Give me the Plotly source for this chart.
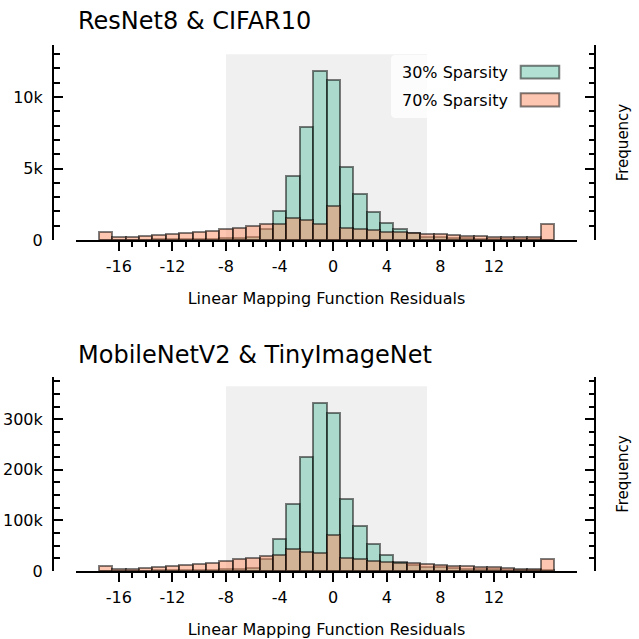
import plotly.graph_objects as go

# ---------------- data ----------------
BINS = list(range(-17, 17))  # bin centres (width 1)

RESNET_30 = [20, 20, 30, 30, 40, 50, 60, 80, 100, 120, 160, 230, 800, 2030, 4500, 7900,
             11810, 11200, 5090, 3240, 1950, 1180, 770, 480, 220, 180, 150, 120, 100, 80,
             70, 60, 50, 30]
RESNET_70 = [530, 190, 230, 280, 350, 420, 490, 550, 610, 740, 850, 950, 1100, 1100, 1550,
             1390, 1110, 2350, 850, 790, 680, 590, 540, 460, 420, 420, 350, 290, 280, 230,
             210, 190, 190, 1150]

MOBILE_30 = [500, 600, 700, 800, 1000, 1200, 1500, 2000, 2500, 3000, 4000, 5000, 23000,
             63000, 133000, 226000, 332000, 313000, 143000, 88000, 53000, 31500, 17800,
             12000, 8500, 7000, 5500, 4500, 3500, 3000, 2500, 2000, 1500, 1000]
MOBILE_70 = [9000, 4000, 4800, 6000, 8000, 9500, 11500, 14000, 16800, 20000, 22800, 25000,
             29800, 32000, 43600, 38500, 35000, 70300, 26500, 24000, 20500, 18500, 16000,
             15000, 13800, 12000, 10500, 10000, 8600, 7300, 6000, 4600, 4000, 23800]

SHADE_X = (-8, 7)
TITLES = ["ResNet8 & CIFAR10", "MobileNetV2 & TinyImageNet"]
SERIES_NAMES = ["30% Sparsity", "70% Sparsity"]
X_MAJOR = list(range(-16, 16, 4))
X_MINOR = list(range(-16, 16))
Y_TICKS_TOP = [0, 5000, 10000]
Y_TICKTEXT_TOP = ["0", "5k", "10k"]
Y_MINOR_TOP = list(range(0, 14000, 1000))
Y_TICKS_BOT = [0, 100000, 200000, 300000]
Y_TICKTEXT_BOT = ["0", "100k", "200k", "300k"]
Y_MINOR_BOT = list(range(0, 400000, 25000))

# ---------------- style ----------------
FONT = "DejaVu Sans"
GREEN = "rgba(102,194,165,0.5)"
PINK = "rgba(252,141,98,0.5)"
EDGE = "rgba(0,0,0,0.5)"
SHADE = "#f0f0f0"
W = H = 639


def px_x(p):
    return p / W


def px_y(p):
    return 1 - p / H


X_DOM = [px_x(76), px_x(577)]
Y_DOM_TOP = [px_y(240), px_y(45)]
Y_DOM_BOT = [px_y(571), px_y(377)]
LEFT_POS = px_x(53)
RIGHT_POS = px_x(595)

fig = go.Figure()

panels = [
    ("x", "y", RESNET_30, RESNET_70),
    ("x2", "y2", MOBILE_30, MOBILE_70),
]
for xa, ya, s30, s70 in panels:
    for vals, col, name in ((s30, GREEN, SERIES_NAMES[0]), (s70, PINK, SERIES_NAMES[1])):
        fig.add_trace(go.Bar(
            x=BINS, y=vals, width=1, name=name, xaxis=xa, yaxis=ya,
            marker=dict(color=col, line=dict(color=EDGE, width=2)),
            showlegend=False, hoverinfo="x+y",
        ))

ymax_top = max(RESNET_30) * 1.1
ymax_bot = max(MOBILE_30) * 1.1
range_top = [0, ymax_top * 1.05]
range_bot = [0, ymax_bot * 1.05]
xrange_ = [BINS[0] - 0.5 - 0.05 * len(BINS), BINS[-1] + 0.5 + 0.05 * len(BINS)]

# shaded regions
for xa, ya, ym in (("x", "y", ymax_top), ("x2", "y2", ymax_bot)):
    fig.add_shape(type="rect", xref=xa, yref=ya, x0=SHADE_X[0], x1=SHADE_X[1], y0=0, y1=ym,
                  fillcolor=SHADE, line=dict(width=0), layer="below")

tickfont = dict(family=FONT, size=16, color="black")


def xaxis_cfg(anchor):
    return dict(
        domain=X_DOM, anchor=anchor, range=xrange_, automargin=False,
        showline=True, linecolor="black", linewidth=2,
        showgrid=False, zeroline=False,
        tickmode="array", tickvals=X_MAJOR, ticktext=[str(v) for v in X_MAJOR],
        ticks="outside", ticklen=9, tickwidth=2, tickcolor="black",
        minor=dict(tickvals=X_MINOR, ticks="outside", ticklen=5, tickwidth=1.5, tickcolor="black"),
        tickfont=tickfont, ticklabelstandoff=2,
        title=dict(text="Linear Mapping Function Residuals", font=dict(family=FONT, size=16, color="black"), standoff=18),
    )


def yaxis_cfg(domain, rng, tv, tt, minor, side="left", pos=LEFT_POS, overlay=None, labels=True, title=None):
    d = dict(
        domain=domain, anchor="free", position=pos, side=side, range=rng, automargin=False,
        showline=True, linecolor="black", linewidth=2,
        showgrid=False, zeroline=False,
        tickmode="array", tickvals=tv, ticktext=tt,
        ticks="inside", ticklen=9, tickwidth=2, tickcolor="black",
        minor=dict(tickvals=minor, ticks="inside", ticklen=5.5, tickwidth=1.5, tickcolor="black"),
        tickfont=tickfont, showticklabels=labels, ticklabelstandoff=6,
    )
    if overlay:
        d["overlaying"] = overlay
    if title:
        d["title"] = dict(text=title, font=dict(family=FONT, size=15, color="black"), standoff=21)
    return d


fig.update_layout(
    template="none",
    width=W, height=H, margin=dict(l=0, r=0, t=0, b=0, pad=0), autosize=False,
    paper_bgcolor="white", plot_bgcolor="white",
    barmode="overlay", bargap=0,
    font=dict(family=FONT, color="black"),
    xaxis=xaxis_cfg("y"),
    xaxis2=xaxis_cfg("y2"),
    yaxis=yaxis_cfg(Y_DOM_TOP, range_top, Y_TICKS_TOP, Y_TICKTEXT_TOP, Y_MINOR_TOP),
    yaxis2=yaxis_cfg(Y_DOM_BOT, range_bot, Y_TICKS_BOT, Y_TICKTEXT_BOT, Y_MINOR_BOT),
    yaxis3=yaxis_cfg(Y_DOM_TOP, range_top, Y_TICKS_TOP, Y_TICKTEXT_TOP, Y_MINOR_TOP,
                     side="right", pos=RIGHT_POS, overlay="y", labels=False, title="Frequency"),
    yaxis4=yaxis_cfg(Y_DOM_BOT, range_bot, Y_TICKS_BOT, Y_TICKTEXT_BOT, Y_MINOR_BOT,
                     side="right", pos=RIGHT_POS, overlay="y2", labels=False, title="Frequency"),
)

# invisible traces so the right-hand overlay axes render
fig.add_trace(go.Scatter(x=[None], y=[None], xaxis="x", yaxis="y3", showlegend=False, hoverinfo="skip"))
fig.add_trace(go.Scatter(x=[None], y=[None], xaxis="x2", yaxis="y4", showlegend=False, hoverinfo="skip"))

# titles
for (ya, shift), text in zip((("y", 24), ("y2", 22)), TITLES):
    fig.add_annotation(text=text, xref="x domain" if ya == "y" else "x2 domain",
                       yref=f"{ya} domain", x=0, y=1, xanchor="left", yanchor="middle",
                       yshift=shift, showarrow=False, font=dict(family=FONT, size=24, color="black"))

# legend box with rounded corners (text first, patch after)
lx0, lx1, ly0, ly1 = 0.6287, 0.980, 0.6256, 0.9487
rx, ry = 0.009, 0.023
path = (f"M {lx0+rx},{ly0} L {lx1-rx},{ly0} Q {lx1},{ly0} {lx1},{ly0+ry} "
        f"L {lx1},{ly1-ry} Q {lx1},{ly1} {lx1-rx},{ly1} L {lx0+rx},{ly1} "
        f"Q {lx0},{ly1} {lx0},{ly1-ry} L {lx0},{ly0+ry} Q {lx0},{ly0} {lx0+rx},{ly0} Z")
fig.add_shape(type="path", xref="x domain", yref="y domain", path=path,
              fillcolor="rgba(255,255,255,0.8)", line=dict(width=0), layer="above")
for (ty, py0, py1), name, col in zip(((0.860, 0.8282, 0.8938), (0.7144, 0.6846, 0.7523)), SERIES_NAMES, (GREEN, PINK)):
    fig.add_annotation(text=name, xref="x domain", yref="y domain", x=0.6467, y=ty,
                       xanchor="left", yanchor="middle", showarrow=False,
                       font=dict(family=FONT, size=16, color="black"))
    fig.add_shape(type="rect", xref="x domain", yref="y domain", x0=0.8876, x1=0.9646, y0=py0, y1=py1,
                  fillcolor=col, line=dict(color=EDGE, width=2), layer="above")

POST = (
    "document.documentElement.style.margin='0';"
    "document.body.style.margin='0';"
    "document.documentElement.style.overflow='hidden';"
    "document.body.style.overflow='hidden';"
)

fig.write_html("out.html", config={"displayModeBar": False}, post_script=POST)
